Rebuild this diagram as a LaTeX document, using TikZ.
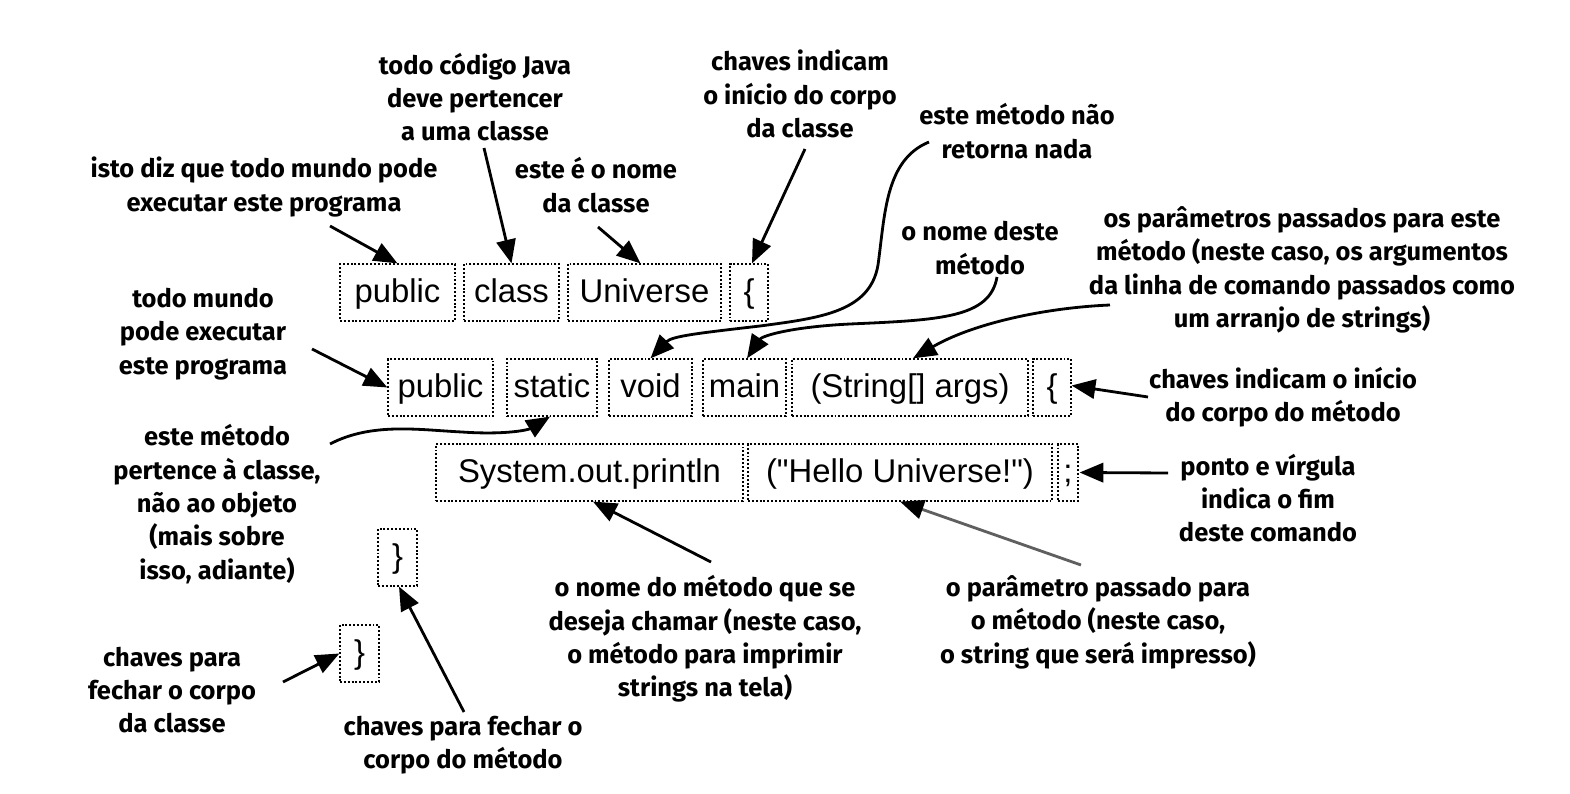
\documentclass[tikz,border=0pt]{standalone}
\usepackage{fontspec}
\setmainfont{Liberation Sans}
\newfontfamily\codefont{Liberation Sans}
\newfontfamily\hand{Fira Sans}
\usetikzlibrary{arrows.meta}
\begin{document}
\begin{tikzpicture}[x=0.02cm,y=-0.02cm,
  codebox/.style={draw, line width=0.7pt, dash pattern=on 1.1pt off 1.1pt,
    minimum height=1.14cm, inner sep=0pt, text height=13.4pt, text depth=2pt,
    font=\codefont\fontsize{18.7}{22}\selectfont},
  note/.style={align=center, inner sep=0pt,
    font=\hand\bfseries\fontsize{14.5}{19}\selectfont},
  arr/.style={line width=1.6pt, -{Triangle[length=13.5pt,width=11pt]}},
]
\useasboundingbox (0,0) rectangle (1570,794);
\fill[white] (0,0) rectangle (1570,794);

% row 1
\node[codebox, minimum width=2.30cm] (pub1) at (397.5,292.5) {public};
\node[codebox, minimum width=1.90cm] (cls) at (511.5,292.5) {class};
\node[codebox, minimum width=3.06cm] (univ) at (644.5,292.5) {Universe};
\node[codebox, minimum width=0.76cm] (br1) at (749,292.5) {\{};
% row 2
\node[codebox, minimum width=2.10cm] (pub2) at (440.5,387.5) {public};
\node[codebox, minimum width=1.80cm] (stat) at (552,387.5) {static};
\node[codebox, minimum width=1.66cm] (void) at (650.5,387.5) {void};
\node[codebox, minimum width=1.66cm] (main) at (744.5,387.5) {main};
\node[codebox, minimum width=4.72cm] (args) at (910,387.5) {(String[] args)};
\node[codebox, minimum width=0.76cm] (br2) at (1052,387.5) {\{};
% row 3
\node[codebox, minimum width=6.14cm] (sys) at (589.5,472.5) {System.out.println};
\node[codebox, minimum width=6.08cm] (hello) at (900,472.5) {("Hello Universe!")};
\node[codebox, minimum width=0.40cm] (semi) at (1068,472.5) {;};
% closing braces
\node[codebox, minimum width=0.78cm] (br3) at (397.5,557.5) {\}};
\node[codebox, minimum width=0.78cm] (br4) at (359.5,653.5) {\}};

% notes
\node[note] (n1) at (475,97) {todo código Java\\deve pertencer\\a uma classe};
\node[note] (n2) at (800,94) {chaves indicam\\o início do corpo\\da classe};
\node[note] (n3) at (1017,131) {este método não\\retorna nada};
\node[note] (n4) at (264,187) {isto diz que todo mundo pode\\executar este programa};
\node[note] (n5) at (596,185) {este é o nome\\da classe};
\node[note] (n6) at (980,248) {o nome deste\\método};
\node[note] (n7) at (1302,270) {os parâmetros passados para este\\método (neste caso, os argumentos\\da linha de comando passados como\\um arranjo de strings)};
\node[note] (n8) at (203,334) {todo mundo\\pode executar\\este programa};
\node[note] (n9) at (1283,397) {chaves indicam o início\\do corpo do método};
\node[note] (n10) at (217,504) {este método\\pertence à classe,\\não ao objeto\\(mais sobre\\isso, adiante)};
\node[note] (n11) at (1268,498) {ponto e vírgula\\indica o fim\\deste comando};
\node[note] (n12) at (705,639) {o nome do método que se\\deseja chamar (neste caso,\\o método para imprimir\\strings na tela)};
\node[note] (n13) at (1098,622) {o parâmetro passado para\\o método (neste caso,\\o string que será impresso)};
\node[note] (n14) at (172,690) {chaves para\\fechar o corpo\\da classe};
\node[note] (n15) at (463,745) {chaves para fechar o\\corpo do método};

% arrow start points
\coordinate (s1) at (330,226);
\coordinate (s2) at (484,148);
\coordinate (s3) at (598,227);
\coordinate (s4) at (805,149);
\coordinate (s5) at (929,142);
\coordinate (s6) at (997,277);
\coordinate (s7) at (1110,305);
\coordinate (s8) at (1148,397);
\coordinate (s9) at (1168,473);
\coordinate (s10) at (312,349);
\coordinate (s11) at (330,444);
\coordinate (s12) at (711,562);
\coordinate (s13) at (1081,565);
\coordinate (s14) at (464,712);
\coordinate (s15) at (283,682);

% arrows
\draw[arr] (s1) -- (pub1.north);
\draw[arr] (s2) -- (cls.north);
\draw[arr] (s3) -- ([xshift=-0.08cm]univ.north);
\draw[arr] (s4) -- ([xshift=0.06cm]br1.north);
\draw[arr] (s5) .. controls (885,160) and (885,215) .. (878,265)
  .. controls (870,312) and (820,318) .. (760,326)
  .. controls (700,333) and (672,336) .. (void.north);
\draw[arr] (s6) .. controls (990,318) and (940,320) .. (850,324)
  .. controls (790,327) and (762,336) .. ([xshift=0.05cm]main.north);
\draw[arr] (s7) .. controls (1040,308) and (970,325) .. ([xshift=0.06cm]args.north);
\draw[arr] (s8) -- ([yshift=0.04cm]br2.east);
\draw[arr] (s9) -- ([xshift=0.02cm]semi.east);
\draw[arr] (s10) -- (pub2.west);
\draw[arr] (s11) .. controls (372,422) and (420,430) .. (462,432)
  .. controls (505,435) and (528,430) .. ([xshift=-0.04cm]stat.south);
\draw[arr] (s12) -- ([xshift=0.07cm]sys.south);
\draw[arr, draw={rgb,255:red,95;green,95;blue,95}, -{Triangle[length=13.5pt,width=11pt,color=black]}] (s13) -- (hello.south);
\draw[arr] (s14) -- ([xshift=0.03cm]br3.south);
\draw[arr] (s15) -- (br4.west);
\end{tikzpicture}
\end{document}
